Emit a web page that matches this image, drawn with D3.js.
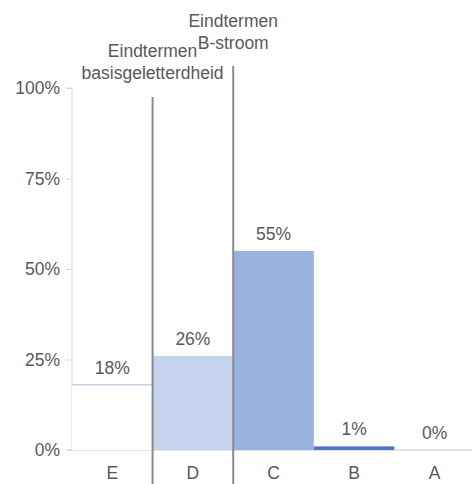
<!DOCTYPE html>
<html><head><meta charset="utf-8">
<script src="https://cdn.jsdelivr.net/npm/d3@7"></script>
<style>body{margin:0;background:#fff}svg{display:block;font-family:"Liberation Sans",Arial,sans-serif}</style>
</head><body><svg id="c" width="472" height="484"></svg>
<script>
const categories = ["E","D","C","B","A"];
const values = [18,26,55,1,0];
const colors = ["#ffffff","#c5d3ec","#9ab2df","#5076c4","#3f63b5"];
const yTicks = [0,25,50,75,100];
const markers = [
  {after:"E", lines:["Eindtermen","basisgeletterdheid"], top:97, labelY:57},
  {after:"D", lines:["Eindtermen","B-stroom"], top:66, labelY:27}
];
const FS = 17.5;
const svg = d3.select("#c");
const x = d3.scaleBand().domain(categories).range([72,475]).padding(0);
const y = d3.scaleLinear().domain([0,100]).range([450,88]);
const txt = "#595959";
svg.append("line").attr("x1",66).attr("x2",472).attr("y1",y(0)).attr("y2",y(0)).attr("stroke","#d9d9d9").attr("stroke-width",1.5);
const ya = svg.append("g").attr("transform","translate(72,0)").call(d3.axisLeft(y).tickValues(yTicks).tickFormat(d=>d+"%").tickSize(6).tickPadding(6));
ya.select(".domain").attr("stroke","#d9d9d9").attr("d","M-6,"+y(100)+"H0V"+y(0));
ya.selectAll(".tick line").attr("stroke","#d9d9d9");
ya.selectAll("text").attr("fill",txt).attr("font-size",FS).attr("font-family","Liberation Sans, Arial, sans-serif");
svg.selectAll("rect.bar").data(categories).enter().append("rect").attr("class","bar")
  .attr("x",d=>x(d)).attr("width",x.bandwidth())
  .attr("y",(d,i)=>y(values[i])).attr("height",(d,i)=>y(0)-y(values[i]))
  .attr("fill",(d,i)=>colors[i]);
svg.append("line").attr("x1",x("E")).attr("x2",x("E")+x.bandwidth()).attr("y1",y(values[0])).attr("y2",y(values[0])).attr("stroke","#c5d3ec").attr("stroke-width",1.5);
svg.selectAll("text.val").data(categories).enter().append("text").attr("class","val")
  .attr("x",d=>x(d)+x.bandwidth()/2).attr("y",(d,i)=>Math.min(y(values[i])-11, 439))
  .attr("text-anchor","middle").attr("fill",txt).attr("font-size",FS).text((d,i)=>values[i]+"%");
svg.selectAll("text.cat").data(categories).enter().append("text").attr("class","cat")
  .attr("x",d=>x(d)+x.bandwidth()/2).attr("y",479).attr("text-anchor","middle").attr("fill",txt).attr("font-size",FS).text(d=>d);
markers.forEach(m=>{
  const xx = x(m.after)+x.bandwidth();
  svg.append("line").attr("x1",xx).attr("x2",xx).attr("y1",m.top).attr("y2",484).attr("stroke","#8c8c8c").attr("stroke-width",2);
  const t = svg.append("text").attr("x",xx).attr("y",m.labelY).attr("text-anchor","middle").attr("fill",txt).attr("font-size",FS);
  m.lines.forEach((l,i)=>t.append("tspan").attr("x",xx).attr("dy",i?22:0).text(l));
});
</script></body></html>
